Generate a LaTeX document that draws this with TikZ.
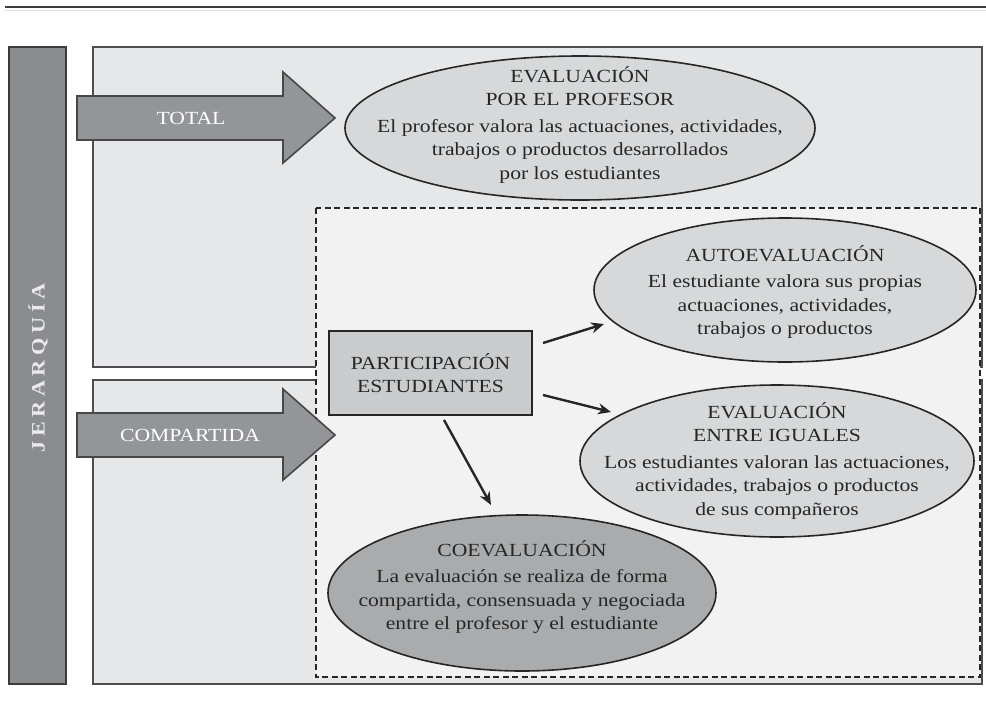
\documentclass[tikz,border=0pt]{standalone}
\usepackage{fontspec}
\setmainfont[FakeStretch=1.17]{Liberation Serif}
\usetikzlibrary{shapes.geometric,arrows.meta}

\definecolor{panelfill}{HTML}{E6E7E8}
\definecolor{panelline}{HTML}{4D4D4F}
\definecolor{zonefill}{HTML}{F2F2F2}
\definecolor{barfill}{HTML}{8A8C8F}
\definecolor{arrowfill}{HTML}{939598}
\definecolor{lightoval}{HTML}{D7D8D9}
\definecolor{darkoval}{HTML}{A9ABAD}
\definecolor{boxfill}{HTML}{CACBCC}
\definecolor{ink}{HTML}{262626}

\begin{document}
\begin{tikzpicture}[x=1pt,y=-1pt,
  panel/.style={fill=panelfill,draw=panelline,line width=1.6pt},
  zone/.style={fill=zonefill,draw=ink,line width=1.5pt,dash pattern=on 6pt off 3.5pt},
  bigarrow/.style={fill=arrowfill,draw=ink!85,line width=1.6pt,line join=miter},
  arrowtext/.style={text=white,font=\fontsize{18.5}{20}\selectfont},
  oval/.style={ellipse,draw=ink,line width=1.6pt,inner sep=0pt},
  ovaltext/.style={align=center,text=ink,font=\fontsize{18.5}{23.5}\selectfont},
  stepbox/.style={rectangle,fill=boxfill,draw=ink,line width=1.6pt,minimum width=203pt,minimum height=84pt,align=center,text=ink,font=\fontsize{18.5}{23}\selectfont},
  conn/.style={draw=ink,line width=2.4pt,-{Stealth[length=13pt,width=11pt]}}
]
\useasboundingbox[fill=white] (0,0) rectangle (986,721);

% rules at the top of the page
\draw[line width=2pt,ink!90] (5,7) -- (986,7);
\draw[line width=0.8pt,black!12] (5,10.5) -- (986,10.5);

% hierarchy bar
\draw[fill=barfill,draw=ink!90,line width=1.6pt] (9,47) rectangle (66,684);
\node[rotate=90,text=white!92!black,font=\fontsize{19}{20}\selectfont\bfseries\addfontfeature{LetterSpace=24}] (jer) at (38,368) {JERARQUÍA};

% two hierarchy levels
\draw[panel] (93,47) rectangle (982,367);
\draw[panel] (93,380) rectangle (982,684);

% zone of student participation
\draw[zone] (316,208) rectangle (980,677);

% level arrows
\draw[bigarrow] (77,96) -- (283,96) -- (283,72) -- (335,118) -- (283,163) -- (283,140) -- (77,140) -- cycle;
\node[arrowtext] (total) at (191,118) {TOTAL};
\draw[bigarrow] (77,413) -- (283,413) -- (283,389) -- (335,435) -- (283,480) -- (283,457) -- (77,457) -- cycle;
\node[arrowtext] (comp) at (190,435) {COMPARTIDA};

% teacher assessment
\node[oval,fill=lightoval,minimum width=470pt,minimum height=144pt] (prof) at (580,128) {};
\node[ovaltext] (profT) at (580,125) {EVALUACIÓN\\POR EL PROFESOR\\[3pt]El profesor valora las actuaciones, actividades,\\trabajos o productos desarrollados\\por los estudiantes};

% self assessment
\node[oval,fill=lightoval,minimum width=382pt,minimum height=144pt] (auto) at (785,290) {};
\node[ovaltext] (autoT) at (785,292) {AUTOEVALUACIÓN\\[3pt]El estudiante valora sus propias\\actuaciones, actividades,\\trabajos o productos};

% peer assessment
\node[oval,fill=lightoval,minimum width=394pt,minimum height=152pt] (peer) at (777,461) {};
\node[ovaltext] (peerT) at (777,461) {EVALUACIÓN\\ENTRE IGUALES\\[3pt]Los estudiantes valoran las actuaciones,\\actividades, trabajos o productos\\de sus compañeros};

% co-assessment
\node[oval,fill=darkoval,minimum width=388pt,minimum height=156pt] (coev) at (522,593) {};
\node[ovaltext] (coevT) at (522,587) {COEVALUACIÓN\\[3pt]La evaluación se realiza de forma\\compartida, consensuada y negociada\\entre el profesor y el estudiante};

% student participation
\node[stepbox] (part) at (430.5,373) {PARTICIPACIÓN\\ESTUDIANTES};

% connectors
\coordinate (s1) at (543,343);
\coordinate (e1) at (604,324);
\coordinate (s2) at (543,395);
\coordinate (e2) at (611,412);
\coordinate (s3) at (444,420);
\coordinate (e3) at (491,505);
\draw[conn] (s1) -- (e1);
\draw[conn] (s2) -- (e2);
\draw[conn] (s3) -- (e3);
\end{tikzpicture}
\end{document}
